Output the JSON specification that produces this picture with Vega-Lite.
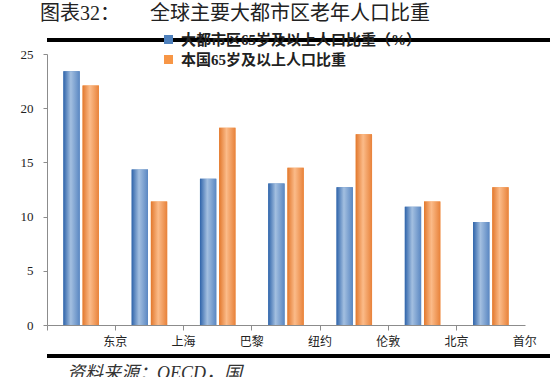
{
  "$schema": "https://vega.github.io/schema/vega-lite/v6.json",
  "padding": {"left": 5, "top": 4, "right": 5, "bottom": 0},
  "background": "white",
  "config": {
    "view": {"stroke": null},
    "font": "Liberation Serif, Noto Sans CJK SC",
    "concat": {"spacing": 3}
  },
  "title": {
    "text": "图表32：\u3000\u3000全球主要大都市区老年人口比重",
    "anchor": "start",
    "dx": 35,
    "fontSize": 20,
    "font": "Liberation Serif, Noto Sans CJK SC",
    "fontWeight": "normal",
    "color": "#222222",
    "offset": 8
  },
  "vconcat": [
    {
      "width": 540,
      "height": 4,
      "view": {"fill": "#000000", "stroke": null},
      "data": {"values": [{}]},
      "mark": "text",
      "encoding": {"text": {"value": ""}}
    },
    {
      "width": 478,
      "height": 271,
      "data": {
        "values": [
          {"city": "东京", "series": "大都市区65岁及以上人口比重（%）", "value": 23.4},
          {"city": "东京", "series": "本国65岁及以上人口比重", "value": 22.1},
          {"city": "上海", "series": "大都市区65岁及以上人口比重（%）", "value": 14.35},
          {"city": "上海", "series": "本国65岁及以上人口比重", "value": 11.4},
          {"city": "巴黎", "series": "大都市区65岁及以上人口比重（%）", "value": 13.5},
          {"city": "巴黎", "series": "本国65岁及以上人口比重", "value": 18.2},
          {"city": "纽约", "series": "大都市区65岁及以上人口比重（%）", "value": 13.05},
          {"city": "纽约", "series": "本国65岁及以上人口比重", "value": 14.5},
          {"city": "伦敦", "series": "大都市区65岁及以上人口比重（%）", "value": 12.7},
          {"city": "伦敦", "series": "本国65岁及以上人口比重", "value": 17.6},
          {"city": "北京", "series": "大都市区65岁及以上人口比重（%）", "value": 10.9},
          {"city": "北京", "series": "本国65岁及以上人口比重", "value": 11.4},
          {"city": "首尔", "series": "大都市区65岁及以上人口比重（%）", "value": 9.5},
          {"city": "首尔", "series": "本国65岁及以上人口比重", "value": 12.7}
        ]
      },
      "encoding": {
        "x": {
          "field": "city",
          "type": "nominal",
          "sort": ["东京", "上海", "巴黎", "纽约", "伦敦", "北京", "首尔"],
          "scale": {"paddingInner": 0.48, "paddingOuter": 0.24},
          "axis": {
            "title": null,
            "labelAngle": 0,
            "labelFontSize": 12,
            "labelColor": "#222222",
            "labelPadding": 6,
            "domainColor": "#8c8c8c",
            "tickColor": "#8c8c8c",
            "tickSize": 5,
            "bandPosition": -0.4615,
            "labelOffset": 34,
            "grid": false
          }
        },
        "y": {
          "field": "value",
          "type": "quantitative",
          "scale": {"domain": [0, 25]},
          "axis": {
            "title": null,
            "values": [0, 5, 10, 15, 20, 25],
            "labelFontSize": 13,
            "labelColor": "#222222",
            "labelPadding": 10,
            "tickSize": 4,
            "tickColor": "#8c8c8c",
            "domainColor": "#8c8c8c",
            "grid": false,
            "minExtent": 42,
            "maxExtent": 42
          }
        },
        "xOffset": {
          "field": "series",
          "sort": ["大都市区65岁及以上人口比重（%）", "本国65岁及以上人口比重"],
          "scale": {"paddingInner": 0.15}
        }
      },
      "layer": [
        {
          "mark": {"type": "bar"},
          "encoding": {
            "color": {
              "field": "series",
              "type": "nominal",
              "sort": ["大都市区65岁及以上人口比重（%）", "本国65岁及以上人口比重"],
              "scale": {"range": ["#4F81BD", "#F79646"]},
              "legend": {
                "title": null,
                "orient": "none",
                "legendX": 114,
                "legendY": -6,
                "padding": 0,
                "symbolType": "square",
                "symbolSize": 81,
                "symbolStrokeWidth": 0,
                "labelFontSize": 15,
                "labelFont": "Liberation Serif, Noto Sans CJK SC",
                "labelFontWeight": "bold",
                "labelColor": "#222222",
                "labelLimit": 400,
                "rowPadding": 4,
                "labelOffset": 5
              }
            }
          }
        },
        {
          "transform": [{"filter": "datum.series == '大都市区65岁及以上人口比重（%）'"}],
          "mark": {
            "type": "bar",
            "fill": {
              "gradient": "linear",
              "x1": 0, "y1": 0, "x2": 1, "y2": 0,
              "stops": [
                {"offset": 0, "color": "#2F64AA"},
                {"offset": 0.45, "color": "#A3BFE0"},
                {"offset": 1, "color": "#5A87C2"}
              ]
            }
          }
        },
        {
          "transform": [{"filter": "datum.series == '本国65岁及以上人口比重'"}],
          "mark": {
            "type": "bar",
            "fill": {
              "gradient": "linear",
              "x1": 0, "y1": 0, "x2": 1, "y2": 0,
              "stops": [
                {"offset": 0, "color": "#E2782D"},
                {"offset": 0.45, "color": "#FBBB89"},
                {"offset": 1, "color": "#E8823A"}
              ]
            }
          }
        }
      ]
    },
    {
      "width": 540,
      "height": 4,
      "view": {"fill": "#000000", "stroke": null},
      "data": {"values": [{}]},
      "mark": "text",
      "encoding": {"text": {"value": ""}},
      "title": {
        "text": "资料来源：OECD，国",
        "orient": "bottom",
        "anchor": "start",
        "dx": 20,
        "offset": 4,
        "fontSize": 18,
        "fontStyle": "italic",
        "fontWeight": "normal",
        "font": "Liberation Serif, Noto Sans CJK SC",
        "color": "#333333"
      }
    }
  ]
}
